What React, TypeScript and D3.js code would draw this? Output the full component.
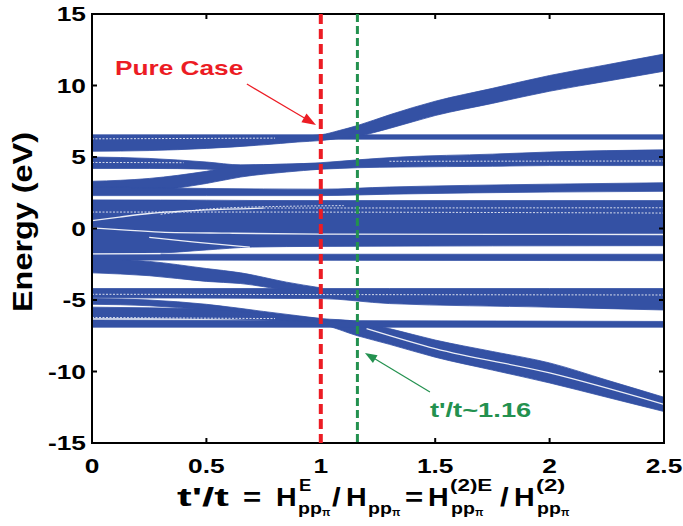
import React from 'react';
import * as d3 from 'd3';

type Pt3 = [number, number, number]; // [t'/t, lower E, upper E]
type Pt2 = [number, number];

// ---------- axis ticks ----------
const xTicks = [0, 0.5, 1, 1.5, 2, 2.5];
const xTickLabels = ['0', '0.5', '1', '1.5', '2', '2.5'];
const yTicks = [-15, -10, -5, 0, 5, 10, 15];
const yTickLabels = ['-15', '-10', '-5', '0', '5', '10', '15'];

// ---------- energy bands (t'/t, lower, upper) ----------
const bandTopFlat: Pt3[] = [[0, 6.25, 6.55], [2.5, 6.25, 6.55]];
const bandTopRising: Pt3[] = [
  [0, 5.4, 6.3], [0.25, 5.45, 6.3], [0.5, 5.6, 6.35], [0.75, 5.85, 6.4], [0.9, 6.05, 6.45],
  [1.0, 6.15, 6.55], [1.08, 6.3, 6.85], [1.16, 6.45, 7.2], [1.3, 7.0, 7.95], [1.5, 7.9, 8.9],
  [1.75, 8.75, 9.8], [2.0, 9.6, 10.7], [2.25, 10.3, 11.45], [2.5, 11.0, 12.2],
];
const bandUpper2: Pt3[] = [
  [0, 4.2, 5.0], [0.25, 4.2, 4.9], [0.5, 4.15, 4.65], [0.65, 4.05, 4.45], [0.85, 4.1, 4.5],
  [1.0, 4.15, 4.6], [1.16, 4.25, 4.8], [1.35, 4.3, 5.0], [1.75, 4.35, 5.2], [2.0, 4.4, 5.35], [2.5, 4.4, 5.5],
];
const bandUpper3: Pt3[] = [
  [0, 2.4, 3.3], [0.25, 2.6, 3.5], [0.5, 3.15, 4.0], [0.65, 3.6, 4.4], [0.85, 3.95, 4.5], [1.0, 4.15, 4.55],
];
const bandUpper4: Pt3[] = [
  [0, 2.3, 2.9], [0.5, 2.3, 2.8], [1.0, 2.3, 2.75], [1.3, 2.4, 2.9], [2.0, 2.55, 3.1], [2.5, 2.6, 3.2],
];
const bandCentral: Pt3[] = [
  [0, -1.75, 2.0], [0.3, -1.7, 1.99], [0.5, -1.5, 1.98], [0.7, -1.3, 1.96], [1.0, -1.25, 1.95], [2.5, -1.2, 1.95],
];
const bandLower1: Pt3[] = [[0, -2.2, -1.8], [2.5, -2.25, -1.8]];
const bandLower2: Pt3[] = [
  [0, -3.1, -2.1], [0.25, -3.3, -2.3], [0.5, -3.7, -2.8], [0.65, -3.85, -3.1], [0.85, -4.3, -3.75], [1.0, -4.5, -4.15],
];
const bandLower3: Pt3[] = [
  [0, -4.85, -4.2], [1.0, -4.9, -4.2], [1.3, -5.25, -4.2], [2.0, -5.5, -4.2], [2.5, -5.7, -4.2],
];
const bandLower4: Pt3[] = [
  [0, -5.3, -4.9], [0.25, -5.4, -5.0], [0.5, -5.7, -5.3], [0.75, -6.2, -5.8], [0.9, -6.45, -6.1], [1.0, -6.6, -6.3],
];
const bandBottomFalling: Pt3[] = [
  [0, -6.25, -5.5], [0.25, -6.25, -5.55], [0.5, -6.3, -5.65], [0.75, -6.4, -5.95], [0.9, -6.55, -6.15],
  [1.0, -6.7, -6.3], [1.16, -7.5, -6.5], [1.3, -8.1, -7.0], [1.5, -9.0, -7.8], [1.75, -9.9, -8.6],
  [2.0, -10.8, -9.4], [2.25, -11.8, -10.6], [2.5, -12.8, -11.8],
];
const bandBottomFlat: Pt3[] = [[0, -6.9, -6.4], [2.5, -6.9, -6.5]];

const bands: Pt3[][] = [
  bandTopFlat, bandTopRising, bandUpper2, bandUpper3, bandUpper4, bandCentral,
  bandLower1, bandLower2, bandLower3, bandLower4, bandBottomFalling, bandBottomFlat,
];

// ---------- thin gaps between sub-bands ----------
const solidGaps: Pt2[][] = [
  [[0, 0.55], [0.12, 0.8], [0.25, 1.05], [0.5, 1.3], [0.75, 1.42]],
  [[0, 0.05], [0.15, -0.12], [0.3, -0.25], [0.6, -0.33], [1.0, -0.4], [2.5, -0.42]],
  [[0.25, -0.62], [0.45, -0.95], [0.69, -1.3]],
  [[0, -1.77], [0.3, -1.76]],
  [[1.2, -7.0], [1.5, -8.4], [2.0, -10.1], [2.5, -12.3]],
];
const dottedGaps: Pt2[][] = [
  [[0, 6.27], [0.8, 6.32]],
  [[0.75, 1.43], [2.5, 1.45]],
  [[0, 1.15], [0.6, 1.15], [2.5, 1.08]],
  [[0.3, 1.0], [0.6, 1.45], [1.1, 1.6]],
  [[0, 4.62], [0.4, 4.6]],
  [[1.3, 4.7], [2.5, 4.72]],
  [[0, -4.6], [2.5, -4.65]],
  [[0, -6.22], [0.8, -6.3]],
];

// ---------- annotations ----------
const pureCaseT = 1.0;
const criticalT = 1.16;
const pureLabel = { t: 0.1, e: 10.73, text: 'Pure Case' };
const pureArrow: [Pt2, Pt2] = [[0.677, 10.1], [0.979, 7.24]];
const critLabel = { t: 1.477, e: -13.2, text: "t'/t~1.16" };
const critArrow: [Pt2, Pt2] = [[1.477, -11.43], [1.193, -8.7]];

const RED = '#ec1c24';
const GREEN = '#23914f';
const BLUE = '#3451a4';
const FONT = "'Liberation Sans', Arial, Helvetica, sans-serif";

function T({ x, y, sx = 1, anchor = 'start', size, fill = '#000', rotate = 0, children, textLength }: any) {
  return (
    <g transform={`translate(${x},${y}) rotate(${rotate}) scale(${sx},1)`}>
      <text
        textAnchor={anchor}
        fontSize={size}
        fill={fill}
        fontWeight="bold"
        fontFamily={FONT}
        textLength={textLength}
        lengthAdjust={textLength ? 'spacingAndGlyphs' : undefined}
      >
        {children}
      </text>
    </g>
  );
}

function arrowGeom(p1: Pt2, p2: Pt2, L: number, w: number) {
  const dx = p2[0] - p1[0], dy = p2[1] - p1[1];
  const len = Math.hypot(dx, dy);
  const ux = dx / len, uy = dy / len, nx = -uy, ny = ux;
  const bx = p2[0] - ux * L, by = p2[1] - uy * L;
  return {
    x1: p1[0], y1: p1[1], x2: bx + ux * 2, y2: by + uy * 2,
    head: `M${p2[0]},${p2[1]}L${bx + nx * w},${by + ny * w}L${bx - nx * w},${by - ny * w}Z`,
  };
}

export default function App() {
  const W = 683, H = 526;
  const left = 92, right = 664, top = 14, bottom = 443;
  const x = d3.scaleLinear().domain([0, 2.5]).range([left, right]);
  const y = d3.scaleLinear().domain([-15, 15]).range([bottom, top]);

  const area = d3.area<Pt3>().x(d => x(d[0])).y0(d => y(d[1])).y1(d => y(d[2])).curve(d3.curveMonotoneX);
  const line = d3.line<Pt2>().x(d => x(d[0])).y(d => y(d[1])).curve(d3.curveMonotoneX);

  const ra = arrowGeom([x(pureArrow[0][0]), y(pureArrow[0][1])], [x(pureArrow[1][0]), y(pureArrow[1][1])], 14, 5);
  const ga = arrowGeom([x(critArrow[0][0]), y(critArrow[0][1])], [x(critArrow[1][0]), y(critArrow[1][1])], 12, 4.5);

  const LB = 506, SUPB = 491, SUBB = 514, PIB = 516;

  return (
    <svg width={W} height={H} style={{ display: 'block', background: '#fff' }}>
      <style>{`body{margin:0}`}</style>
      <defs>
        <clipPath id="plot">
          <rect x={left} y={top} width={right - left} height={bottom - top} />
        </clipPath>
      </defs>
      <g clipPath="url(#plot)">
        {bands.map((b, i) => (
          <path key={i} d={area(b) || ''} fill={BLUE} stroke={BLUE} strokeWidth={0.8} />
        ))}
        {solidGaps.map((g, i) => (
          <path key={'s' + i} d={line(g) || ''} fill="none" stroke="#fff" strokeWidth={1.3} opacity={0.9} />
        ))}
        {dottedGaps.map((g, i) => (
          <path key={'d' + i} d={line(g) || ''} fill="none" stroke="#fff" strokeWidth={1} strokeDasharray="2,1.5" opacity={0.8} />
        ))}
      </g>

      {/* frame */}
      <rect x={left} y={top} width={right - left} height={bottom - top} fill="none" stroke="#000" strokeWidth={2} />
      {xTicks.map(t => (
        <g key={'xt' + t}>
          <line x1={x(t)} x2={x(t)} y1={bottom} y2={bottom - 5} stroke="#000" strokeWidth={2} />
          <line x1={x(t)} x2={x(t)} y1={top} y2={top + 5} stroke="#000" strokeWidth={2} />
        </g>
      ))}
      {yTicks.map(v => (
        <g key={'yt' + v}>
          <line x1={left} x2={left + 5} y1={y(v)} y2={y(v)} stroke="#000" strokeWidth={2} />
          <line x1={right} x2={right - 5} y1={y(v)} y2={y(v)} stroke="#000" strokeWidth={2} />
        </g>
      ))}

      {/* vertical markers */}
      <line x1={x(pureCaseT)} x2={x(pureCaseT)} y1={top} y2={bottom} stroke={RED} strokeWidth={4} strokeDasharray="10,5" />
      <line x1={x(criticalT)} x2={x(criticalT)} y1={top} y2={bottom} stroke={GREEN} strokeWidth={3} strokeDasharray="8,4" />

      {/* tick labels */}
      {xTicks.map((t, i) => (
        <T key={'xl' + t} x={x(t)} y={473} sx={1.35} anchor="middle" size={19.5}>{xTickLabels[i]}</T>
      ))}
      {yTicks.map((v, i) => (
        <T key={'yl' + v} x={86} y={y(v) + 7} sx={1.35} anchor="end" size={19.5}>{yTickLabels[i]}</T>
      ))}

      {/* y label */}
      <T x={32} y={222} rotate={-90} sx={1.2} anchor="middle" size={27}>Energy (eV)</T>

      {/* x label */}
      <T x={177} y={LB} size={26} textLength={52}>t'/t</T>
      <T x={243} y={LB} size={26} sx={1.2}>=</T>
      <T x={276} y={LB} size={26} sx={1.1}>H</T>
      <T x={299} y={SUPB} size={16} sx={1.15}>E</T>
      <T x={298} y={SUBB} size={17} sx={1.15}>pp</T>
      <T x={322} y={PIB} size={11}>π</T>
      <T x={332} y={LB} size={26} sx={1.2}>/</T>
      <T x={346} y={LB} size={26} sx={1.1}>H</T>
      <T x={368} y={SUBB} size={17} sx={1.15}>pp</T>
      <T x={392} y={PIB} size={11}>π</T>
      <T x={405} y={LB} size={26} sx={1.2}>=</T>
      <T x={428} y={LB} size={26} sx={1.1}>H</T>
      <T x={450} y={SUPB} size={16} sx={1.4}>(2)E</T>
      <T x={451} y={SUBB} size={17} sx={1.15}>pp</T>
      <T x={475} y={PIB} size={11}>π</T>
      <T x={500} y={LB} size={26} sx={1.2}>/</T>
      <T x={514} y={LB} size={26} sx={1.1}>H</T>
      <T x={536} y={SUPB} size={16} sx={1.5}>(2)</T>
      <T x={537} y={SUBB} size={17} sx={1.15}>pp</T>
      <T x={561} y={PIB} size={11}>π</T>

      {/* annotations */}
      <T x={x(pureLabel.t)} y={y(pureLabel.e)} size={21} sx={1.25} fill={RED}>{pureLabel.text}</T>
      <line x1={ra.x1} y1={ra.y1} x2={ra.x2} y2={ra.y2} stroke={RED} strokeWidth={1.2} />
      <path d={ra.head} fill={RED} />

      <T x={x(critLabel.t)} y={y(critLabel.e)} size={21} sx={1.3} fill={GREEN}>{critLabel.text}</T>
      <line x1={ga.x1} y1={ga.y1} x2={ga.x2} y2={ga.y2} stroke={GREEN} strokeWidth={1.2} />
      <path d={ga.head} fill={GREEN} />
    </svg>
  );
}
